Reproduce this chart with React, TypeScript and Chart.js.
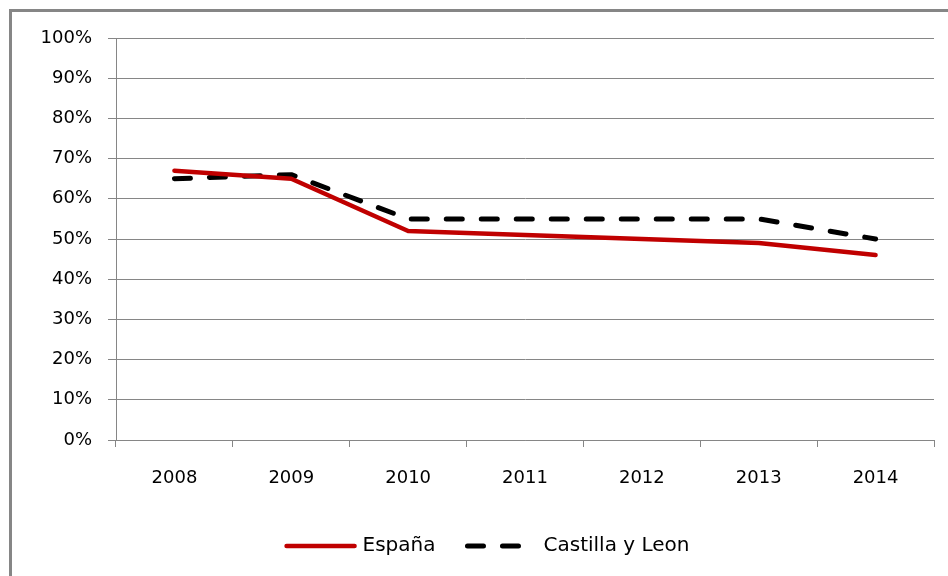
import React, { useEffect, useRef } from "react";
import { Chart, registerables } from "chart.js";

Chart.register(...registerables);

const categories = ["2008", "2009", "2010", "2011", "2012", "2013", "2014"];
const espana = [67, 65, 52, 51, 50, 49, 46];
const castilla = [65, 66, 55, 55, 55, 55, 50];
const seriesNames = ["España", "Castilla y Leon"];
const yMin = 0;
const yMax = 100;
const yStep = 10;

const GRID = "#868686";
const FONT = "'DejaVu Sans', sans-serif";
const RED = "#C00000";
const BLACK = "#000000";

const framePlugin = {
  id: "frame",
  beforeDraw(chart: any) {
    const ctx = chart.ctx;
    ctx.save();
    ctx.fillStyle = "#ffffff";
    ctx.fillRect(0, 0, chart.width, chart.height);
    ctx.strokeStyle = GRID;
    ctx.lineWidth = 3;
    ctx.strokeRect(10.5, 10.5, 1200, 1200);
    ctx.restore();
  },
};

// draws legend symbols (dashed sample for the dashed series)
const legendSymbolPlugin = {
  id: "legendSymbols",
  afterDraw(chart: any) {
    const legend = chart.legend;
    if (!legend || !legend.legendHitBoxes) return;
    const ctx = chart.ctx;
    legend.legendHitBoxes.forEach((box: any, i: number) => {
      const ds = chart.data.datasets[i];
      const y = box.top + box.height / 2;
      ctx.save();
      ctx.strokeStyle = ds.borderColor;
      ctx.lineWidth = ds.borderWidth;
      ctx.lineCap = "round";
      ctx.setLineDash(ds.borderDash || []);
      const len = ds.borderDash ? 54 : 68;
      ctx.beginPath();
      ctx.moveTo(box.left + 2, y);
      ctx.lineTo(box.left + 2 + len, y);
      ctx.stroke();
      ctx.restore();
    });
  },
};

export default function App() {
  const ref = useRef<HTMLCanvasElement | null>(null);

  useEffect(() => {
    document.body.style.margin = "0";
    const canvas = ref.current;
    if (!canvas) return;
    const chart = new Chart(canvas, {
      type: "line",
      data: {
        labels: categories,
        datasets: [
          {
            label: seriesNames[0],
            data: espana,
            borderColor: RED,
            backgroundColor: RED,
            borderWidth: 4.5,
            borderCapStyle: "round",
            borderJoinStyle: "round",
            pointRadius: 0,
            tension: 0,
          },
          {
            label: seriesNames[1],
            data: castilla,
            borderColor: BLACK,
            backgroundColor: BLACK,
            borderWidth: 5,
            borderDash: [16, 19],
            borderCapStyle: "round",
            borderJoinStyle: "round",
            pointRadius: 0,
            tension: 0,
          },
        ],
      },
      options: {
        responsive: false,
        animation: false,
        maintainAspectRatio: false,
        layout: { padding: { left: 40, right: 14, top: 38, bottom: 10 } },
        plugins: {
          tooltip: { enabled: false },
          legend: {
            position: "bottom",
            labels: {
              usePointStyle: true,
              pointStyle: "line",
              pointStyleWidth: 68,
              padding: 30,
              color: BLACK,
              font: { family: FONT, size: 20 },
              generateLabels(chart: any) {
                const items = (Chart as any).defaults.plugins.legend.labels.generateLabels(chart);
                return items.map((it: any) => ({
                  ...it,
                  strokeStyle: "rgba(0,0,0,0)",
                  fillStyle: "rgba(0,0,0,0)",
                  fontColor: BLACK,
                }));
              },
            },
          },
        },
        scales: {
          x: {
            offset: true,
            grid: {
              display: true,
              offset: true,
              drawOnChartArea: false,
              drawTicks: true,
              tickLength: 7,
              color: GRID,
            },
            border: { display: true, color: GRID, width: 1 },
            ticks: {
              color: BLACK,
              font: { family: FONT, size: 18 },
              padding: 21,
              maxRotation: 0,
            },
            afterFit(scale: any) {
              scale.height = 66;
            },
          },
          y: {
            min: yMin,
            max: yMax,
            grid: {
              color: GRID,
              lineWidth: 1,
              tickLength: 8,
              drawTicks: true,
            },
            border: { display: true, color: GRID, width: 1 },
            ticks: {
              stepSize: yStep,
              color: BLACK,
              font: { family: FONT, size: 18 },
              padding: 16,
              callback: (v: any) => v + "%",
            },
            afterFit(scale: any) {
              scale.width = 76;
            },
          },
        },
      },
      plugins: [framePlugin, legendSymbolPlugin],
    });
    return () => chart.destroy();
  }, []);

  return (
    <div style={{ position: "absolute", left: 0, top: 0, width: 948, height: 576 }}>
      <canvas ref={ref} width={948} height={576} style={{ width: 948, height: 576, display: "block" }} />
    </div>
  );
}
